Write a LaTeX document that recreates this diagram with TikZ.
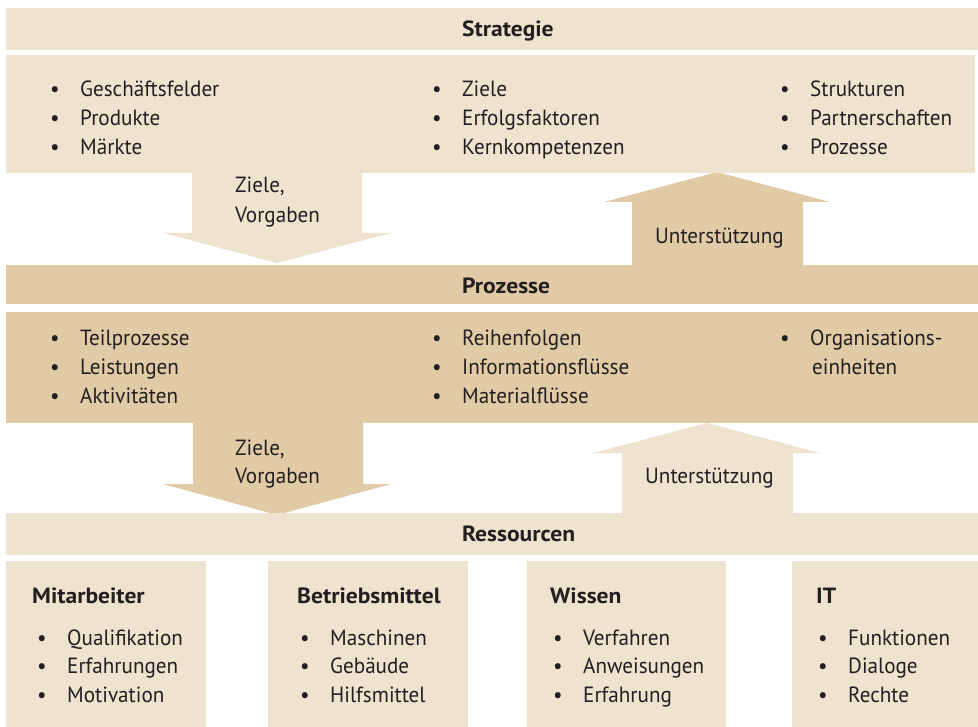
\documentclass[tikz,border=0pt]{standalone}
\usepackage{fontspec}
\setmainfont{PT Sans}[FakeStretch=0.96]
\newfontfamily\headfont{PT Sans}[FakeStretch=1.07]
\begin{document}
\definecolor{sand}{HTML}{EDE3CF}
\definecolor{tan}{HTML}{E0CBA6}
\definecolor{ink}{HTML}{231F20}
\begin{tikzpicture}[x=1pt,y=-1pt,
  every node/.style={text=ink, font=\fontsize{22}{26}\selectfont},
  band/.style={anchor=north west, inner sep=0, outer sep=0, draw=none},
  item/.style={anchor=base west, inner sep=0},
  head/.style={anchor=base west, inner sep=0, font=\fontsize{22}{26}\selectfont\headfont\bfseries},
  lbl/.style={anchor=base west, inner sep=0, align=left}]
\newcommand\bulletlist[4]{%
  \foreach \txt [count=\i] in {#4} {
    \node[item] (#1-b\i) at (#2-30, {#3+(\i-1)*28.7}) {\textbullet};
    \node[item] (#1-\i) at (#2, {#3+(\i-1)*28.7}) {\txt};
  }}
\useasboundingbox (0,0) rectangle (978,727);

% arrows between the layers
\fill[sand] (192,170) -- (362,170) -- (362,233) -- (391,233) -- (277,263)
  -- (163,233) -- (192,233) -- cycle;
\fill[tan] (632,268) -- (632,202) -- (604,202) -- (717,172) -- (830,202)
  -- (803,202) -- (803,268) -- cycle;
\fill[tan] (193,420) -- (363,420) -- (363,484) -- (391,484) -- (277,515)
  -- (163,484) -- (193,484) -- cycle;
\fill[sand] (622,516) -- (622,453) -- (593,453) -- (707,423) -- (820,453)
  -- (793,453) -- (793,516) -- cycle;

% layer bands
\node[band, fill=sand, minimum width=972pt, minimum height=42pt] (strathead) at (6,8) {};
\node[band, fill=sand, minimum width=969pt, minimum height=118pt] (stratbody) at (6,55) {};
\node[band, fill=tan, minimum width=972pt, minimum height=39pt] (prozhead) at (6,265) {};
\node[band, fill=tan, minimum width=972pt, minimum height=111pt] (prozbody) at (6,312) {};
\node[band, fill=sand, minimum width=972pt, minimum height=42pt] (reshead) at (6,513) {};
\node[band, fill=sand, minimum width=200pt, minimum height=166pt] (mit) at (6,561) {};
\node[band, fill=sand, minimum width=200pt, minimum height=166pt] (betr) at (268,561) {};
\node[band, fill=sand, minimum width=199pt, minimum height=166pt] (wiss) at (527,561) {};
\node[band, fill=sand, minimum width=186pt, minimum height=166pt] (it) at (792,561) {};

% headings
\node[head] (t-strat) at (462,37) {Strategie};
\node[head] (t-proz) at (462,294) {Prozesse};
\node[head] (t-res) at (462,541) {Ressourcen};

% strategy items
\bulletlist{s1}{80}{97}{Geschäftsfelder,Produkte,Märkte}
\bulletlist{s2}{462}{97}{Ziele,Erfolgsfaktoren,Kernkompetenzen}
\bulletlist{s3}{810}{97}{Strukturen,Partnerschaften,Prozesse}

% process items
\bulletlist{p1}{80}{346}{Teilprozesse,Leistungen,Aktivitäten}
\bulletlist{p2}{462}{346}{Reihenfolgen,Informationsflüsse,Materialflüsse}
\node[item] (p3-b1) at (780,346) {\textbullet};
\node[item] (p3-1) at (810,346) {Organisations-};
\node[item] (p3-2) at (812,374.7) {einheiten};

% arrow labels
\node[lbl] (a1-1) at (235,193) {Ziele,};
\node[lbl] (a1-2) at (235,223) {Vorgaben};
\node[lbl] (a2) at (655,244) {Unterstützung};
\node[lbl] (a3-1) at (235,455) {Ziele,};
\node[lbl] (a3-2) at (235,483) {Vorgaben};
\node[lbl] (a4) at (645,483) {Unterstützung};

% resource boxes
\node[head] (h-mit) at (32,603) {Mitarbeiter};
\bulletlist{r1}{67}{645}{Qualifikation,Erfahrungen,Motivation}
\node[head] (h-betr) at (297,603) {Betriebsmittel};
\bulletlist{r2}{330}{645}{Maschinen,Gebäude,Hilfsmittel}
\node[head] (h-wiss) at (550,603) {Wissen};
\bulletlist{r3}{583}{645}{Verfahren,Anweisungen,Erfahrung}
\node[head] (h-it) at (816,603) {IT};
\bulletlist{r4}{848}{645}{Funktionen,Dialoge,Rechte}
\end{tikzpicture}
\end{document}
